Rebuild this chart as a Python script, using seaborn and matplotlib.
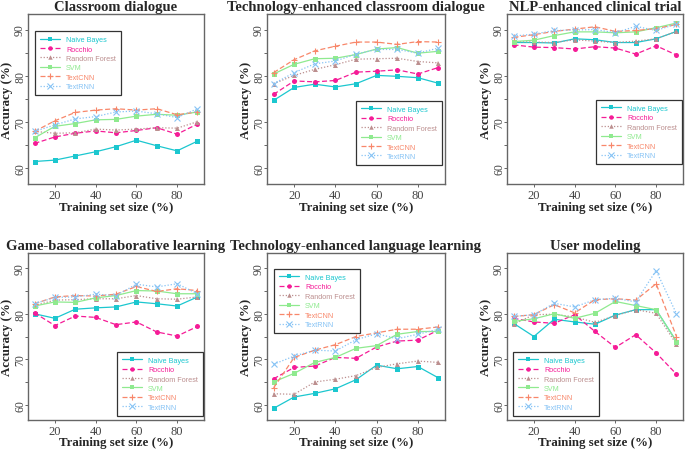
import matplotlib
matplotlib.use("Agg")
import matplotlib.pyplot as plt
import seaborn as sns
import pandas as pd
from matplotlib.lines import Line2D

sns.set_theme(style="white")
plt.rcParams['font.family'] = ['Liberation Serif', 'DejaVu Serif']

# ---------------- data ----------------
train_sizes = [10, 20, 30, 40, 50, 60, 70, 80, 90]
methods = ["Naive Bayes", "Rocchio", "Random Forest", "SVM", "TextCNN", "TextRNN"]
titles = ["Classroom dialogue", "Technology-enhanced classroom dialogue",
          "NLP-enhanced clinical trial", "Game-based collaborative learning",
          "Technology-enhanced language learning", "User modeling"]

classroom_dialogue = {
    "Naive Bayes":   [61.5, 61.8, 62.7, 63.6, 64.7, 66.1, 64.9, 63.8, 65.9],
    "Rocchio":       [65.4, 66.8, 67.6, 68.1, 67.7, 68.2, 68.8, 67.4, 69.6],
    "Random Forest": [68.0, 67.6, 67.7, 68.5, 68.3, 68.5, 68.8, 68.7, 70.1],
    "SVM":           [66.6, 69.1, 69.7, 70.5, 70.6, 71.3, 71.7, 71.5, 72.2],
    "TextCNN":       [68.0, 70.3, 72.1, 72.6, 72.9, 72.6, 72.9, 71.6, 72.2],
    "TextRNN":       [68.0, 69.4, 70.7, 71.2, 72.2, 72.4, 71.8, 71.0, 72.9],
}
tech_classroom_dialogue = {
    "Naive Bayes":   [74.7, 77.5, 78.2, 77.6, 78.3, 80.1, 79.9, 79.6, 78.4],
    "Rocchio":       [76.0, 78.9, 78.7, 79.0, 80.8, 81.0, 81.3, 80.4, 81.8],
    "Random Forest": [78.3, 80.1, 81.4, 82.4, 83.6, 83.7, 83.8, 83.1, 82.8],
    "SVM":           [80.4, 82.5, 83.7, 83.8, 84.6, 85.8, 86.1, 84.9, 85.3],
    "TextCNN":       [80.7, 83.5, 85.4, 86.4, 87.3, 87.3, 86.8, 87.4, 87.3],
    "TextRNN":       [78.3, 80.7, 82.6, 83.2, 84.7, 85.7, 85.7, 84.9, 86.0],
}
nlp_clinical_trial = {
    "Naive Bayes":   [87.2, 87.2, 87.1, 88.0, 87.8, 87.2, 87.2, 88.0, 89.6],
    "Rocchio":       [86.7, 86.2, 86.1, 85.8, 86.3, 86.0, 84.7, 86.5, 84.5],
    "Random Forest": [87.4, 87.3, 87.2, 87.8, 87.5, 87.2, 87.5, 88.0, 89.6],
    "SVM":           [87.4, 87.7, 88.7, 89.5, 89.5, 89.3, 89.5, 90.4, 91.4],
    "TextCNN":       [88.3, 88.9, 89.6, 90.1, 90.6, 89.6, 89.8, 90.2, 91.1],
    "TextRNN":       [88.6, 89.0, 89.8, 89.9, 90.0, 89.3, 90.7, 89.8, 91.2],
}
game_collab_learning = {
    "Naive Bayes":   [80.0, 79.0, 81.0, 81.3, 81.5, 82.6, 82.2, 81.7, 83.7],
    "Rocchio":       [80.2, 77.4, 79.5, 79.2, 77.6, 78.2, 76.0, 75.1, 77.2],
    "Random Forest": [81.8, 83.0, 83.1, 83.3, 83.3, 84.0, 83.3, 83.2, 83.7],
    "SVM":           [81.7, 82.6, 82.5, 83.5, 84.0, 85.1, 85.0, 84.4, 84.4],
    "TextCNN":       [82.2, 83.7, 84.0, 83.9, 84.3, 86.0, 84.9, 85.5, 85.1],
    "TextRNN":       [82.2, 83.6, 83.7, 84.3, 84.0, 86.5, 85.9, 86.6, 84.4],
}
tech_language_learning = {
    "Naive Bayes":   [59.2, 61.7, 62.5, 63.5, 65.5, 68.7, 67.9, 68.4, 65.9],
    "Rocchio":       [65.7, 68.2, 68.5, 70.4, 70.2, 72.7, 74.0, 74.2, 76.4],
    "Random Forest": [62.4, 62.3, 65.0, 65.6, 66.4, 68.2, 69.0, 69.6, 69.3],
    "SVM":           [65.0, 66.9, 69.3, 70.4, 72.4, 73.0, 75.5, 76.1, 76.1],
    "TextCNN":       [63.7, 70.4, 72.0, 73.2, 75.0, 75.8, 76.6, 76.6, 77.1],
    "TextRNN":       [68.9, 70.7, 72.0, 71.8, 74.3, 75.6, 74.5, 75.5, 76.6],
}
user_modeling = {
    "Naive Bayes":   [77.9, 75.0, 78.8, 78.2, 77.7, 79.7, 80.9, 80.9, 73.9],
    "Rocchio":       [79.0, 78.2, 77.9, 79.8, 76.1, 72.6, 75.4, 71.4, 66.7],
    "Random Forest": [77.7, 79.8, 79.9, 79.3, 78.1, 79.6, 80.9, 80.1, 73.3],
    "SVM":           [78.3, 78.9, 80.0, 79.0, 80.1, 82.7, 81.8, 80.9, 73.9],
    "TextCNN":       [79.4, 79.8, 82.0, 80.2, 83.1, 83.3, 83.0, 86.6, 75.0],
    "TextRNN":       [79.4, 79.8, 82.3, 81.5, 83.1, 83.4, 82.6, 89.5, 80.0],
}
datasets = [classroom_dialogue, tech_classroom_dialogue, nlp_clinical_trial,
            game_collab_learning, tech_language_learning, user_modeling]

x_ticks = [20, 40, 60, 80]
y_ticks = [60, 65, 70, 75, 80, 85, 90]
y_tick_labels = ["60", "", "70", "", "80", "", "90"]

# ---------------- styles ----------------
colors = {"Naive Bayes": "#1CC7CF", "Rocchio": "#F51C97", "Random Forest": "#BC8F8F",
          "SVM": "#8FEA8F", "TextCNN": "#F8876A", "TextRNN": "#86C3F5"}
markers = {"Naive Bayes": "s", "Rocchio": "o", "Random Forest": "^",
           "SVM": "s", "TextCNN": "+", "TextRNN": "x"}
dashes = {"Naive Bayes": "-", "Rocchio": (0, (4, 2)), "Random Forest": (0, (1, 1.5)),
          "SVM": "-", "TextCNN": (0, (4, 2)), "TextRNN": (0, (1, 1.5))}

W, H = 685, 452
fig = plt.figure(figsize=(W / 100, H / 100), dpi=100)

cols = [(28, 204), (267, 445), (507, 683)]
rows = [(15, 185), (254, 421)]
legend_anchor = [(0.04, 0.90), (0.50, 0.49), (0.505, 0.495),
                 (0.505, 0.41), (0.04, 0.905), (0.034, 0.41)]

gray_txt = "#444444"
spine_c = "#666666"


def mstyle(m):
    if markers[m] in ("+", "x"):
        return dict(markersize=4.5, markeredgewidth=0.8)
    return dict(markersize=3.6, markeredgewidth=0)


for i, (data, title) in enumerate(zip(datasets, titles)):
    r, c = divmod(i, 3)
    l, rr = cols[c]
    t, b = rows[r]
    aw, ah = rr - l, b - t
    ax = fig.add_axes([l / W, (H - b) / H, aw / W, ah / H])
    for m in methods:
        df = pd.DataFrame({"size": train_sizes, "acc": data[m]})
        sns.lineplot(data=df, x="size", y="acc", ax=ax, color=colors[m],
                     marker=markers[m], linestyle=dashes[m], linewidth=0.9,
                     markeredgecolor=colors[m], **mstyle(m))
    ax.set_xlim(6.8, 93.2)
    ax.set_ylim(56.64, 93.36)
    ax.set_xticks(x_ticks)
    ax.set_xticklabels([str(v) for v in x_ticks], fontsize=9, color=gray_txt)
    ax.set_yticks(y_ticks)
    ax.set_yticklabels(y_tick_labels, fontsize=8.5, color=gray_txt, rotation=90, va="center")
    ax.tick_params(axis="both", direction="out", length=2.2, width=0.7, color=spine_c,
                   left=True, bottom=True)
    ax.tick_params(axis="x", pad=1.2)
    ax.tick_params(axis="y", pad=-0.8)
    for s in ax.spines.values():
        s.set_color(spine_c)
        s.set_linewidth(1.0)
    ax.set_xlabel("Training set size (%)", fontsize=9.3, fontweight="bold", va="center")
    ax.xaxis.set_label_coords(0.5, -22.5 / ah)
    ax.set_ylabel("Accuracy (%)", fontsize=9.3, fontweight="bold", va="center")
    ax.yaxis.set_label_coords(-20.5 / aw, 0.5)
    ax.set_title(title, fontsize=10.5, fontweight="bold", pad=3)

    handles = [Line2D([0], [0], color=colors[m], marker=markers[m],
                      linestyle=dashes[m], linewidth=0.9,
                      markersize=3.2 if markers[m] not in "+x" else 4.2,
                      markeredgewidth=0 if markers[m] not in "+x" else 0.8)
               for m in methods]
    leg = ax.legend(handles, methods, loc="upper left", bbox_to_anchor=legend_anchor[i],
                    prop={"family": "Liberation Sans", "size": 5.2},
                    labelcolor="linecolor", frameon=True, fancybox=False,
                    framealpha=1, edgecolor="#333333", borderpad=0.7,
                    labelspacing=0.33, handlelength=2.8, handletextpad=0.8,
                    borderaxespad=0)
    leg.get_frame().set_linewidth(0.9)

fig.savefig("out.png", dpi=100)
